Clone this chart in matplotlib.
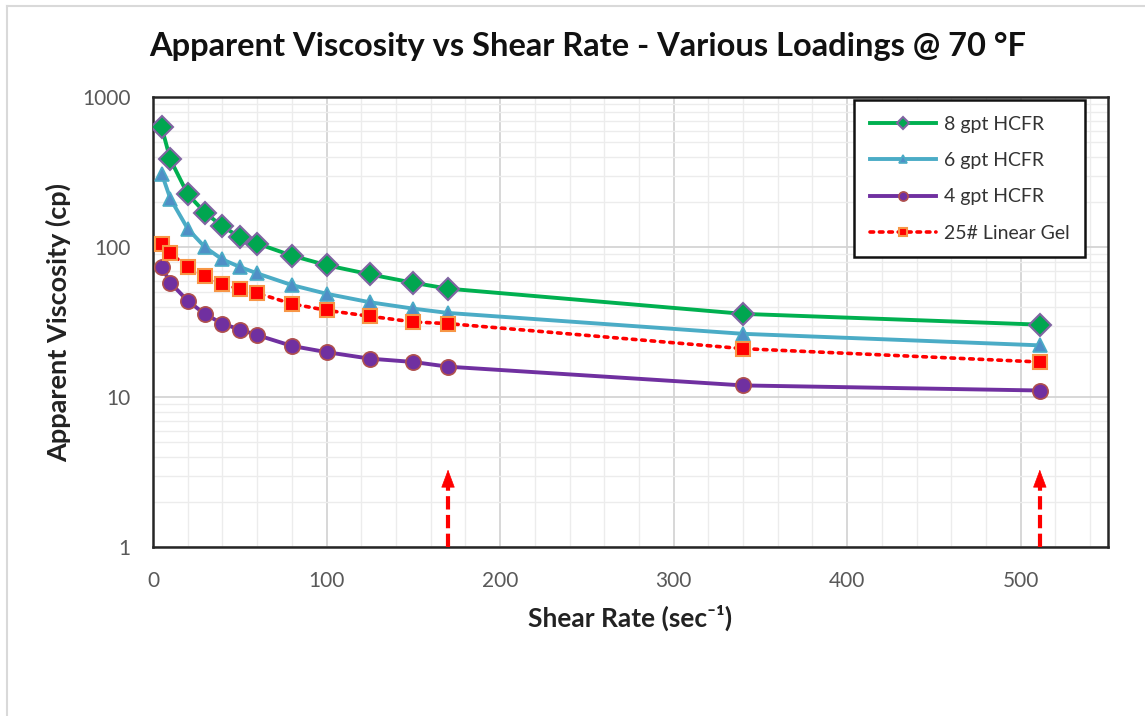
import matplotlib
matplotlib.use("Agg")
import matplotlib.pyplot as plt
from matplotlib.ticker import FixedLocator, LogLocator, NullFormatter, FuncFormatter

plt.rcParams['font.family'] = ['Lato', 'DejaVu Sans']

# shear rate (1/s)
shear = [5, 10, 20, 30, 40, 50, 60, 80, 100, 125, 150, 170, 340, 511]

# apparent viscosity (cp)
visc_8gpt = [630, 385, 226, 170, 138, 117, 106, 88, 76, 66, 58, 53, 36, 30.5]
visc_6gpt = [310, 211, 133, 100, 83, 74, 67, 56, 49, 43, 39, 36.5, 26.5, 22.2]
visc_4gpt = [74, 58, 44, 35.8, 31, 28.3, 26, 22, 20, 18.1, 17.2, 16, 12, 11.1]
visc_gel = [105, 91, 74, 64, 57, 52.5, 49.5, 42, 38, 34.7, 31.8, 31, 21.1, 17.2]

labels = ['8 gpt HCFR', '6 gpt HCFR', '4 gpt HCFR', '25# Linear Gel']

# rates marked with arrows
arrow_x = [170, 511]

fig = plt.figure(figsize=(11.45, 7.16), dpi=100)
ax = fig.add_axes([153/1145, 1 - 547.3/716, (1107.5 - 153)/1145, (547.3 - 97.3)/716])

ax.plot(shear, visc_8gpt, color='#00b050', lw=2.8, marker='D', ms=11,
        mfc='#00a650', mec='#8064a2', mew=1.5, label=labels[0], zorder=5)
ax.plot(shear, visc_6gpt, color='#4bacc6', lw=2.8, marker='^', ms=10,
        mfc='#4f8fc6', mec='#4bacc6', mew=1.2, label=labels[1], zorder=4)
ax.plot(shear, visc_4gpt, color='#7030a0', lw=2.8, marker='o', ms=11,
        mfc='#7030a0', mec='#b0504d', mew=1.2, label=labels[2], zorder=4)
ax.plot(shear, visc_gel, color='red', lw=2.6, ls=(0, (1, 1.6)), dash_capstyle='round',
        marker='s', ms=10, mfc='red', mec='#f79646', mew=1.5, label=labels[3], zorder=4)

# dashed red arrows
for x in arrow_x:
    ax.plot([x, x], [1.0, 2.55], color='red', lw=3, dashes=(3.2, 1.3), zorder=6, clip_on=False)
    ax.annotate('', xy=(x, 3.3), xytext=(x, 2.5),
                arrowprops=dict(arrowstyle='-|>,head_width=0.45,head_length=1.2',
                                color='red', lw=0.5, shrinkA=0, shrinkB=0), zorder=6)

ax.set_yscale('log')
ax.set_xlim(0, 550)
ax.set_ylim(1, 1000)

ax.xaxis.set_major_locator(FixedLocator([0, 100, 200, 300, 400, 500]))
ax.xaxis.set_minor_locator(FixedLocator(range(0, 551, 20)))
ax.yaxis.set_major_locator(FixedLocator([1, 10, 100, 1000]))
ax.yaxis.set_minor_locator(LogLocator(base=10, subs=range(2, 10)))
ax.yaxis.set_major_formatter(FuncFormatter(lambda v, p: '%d' % v))
ax.yaxis.set_minor_formatter(NullFormatter())

ax.grid(which='major', color='#d4d4d4', lw=1.3)
ax.grid(which='minor', color='#ececec', lw=1.0)
ax.set_axisbelow(True)

ax.tick_params(which='both', length=0, labelsize=15, labelcolor='#595959')
ax.tick_params(axis='x', pad=17)
ax.tick_params(axis='y', pad=16)

for s in ax.spines.values():
    s.set_color('#262626')
    s.set_linewidth(1.8)

fig.text(588/1145, 1 - 46/716, 'Apparent Viscosity vs Shear Rate - Various Loadings @ 70 °F',
         fontsize=23.5, fontweight='bold', color='#111111', ha='center', va='center')
ax.set_xlabel('Shear Rate (sec⁻¹)', fontsize=19, fontweight='bold', color='#222222', labelpad=10)
ax.set_ylabel('Apparent Viscosity (cp)', fontsize=19.5, fontweight='bold', color='#222222', labelpad=8)

leg = ax.legend(loc='upper right', bbox_to_anchor=(1085/1145, 1 - 100/716),
                bbox_transform=fig.transFigure, borderaxespad=0, fontsize=14,
                frameon=True, fancybox=False, edgecolor='#111111', framealpha=1,
                handlelength=3.4, handletextpad=0.4, labelspacing=1.0,
                borderpad=0.8, markerscale=0.6)
leg.get_frame().set_linewidth(1.8)
for t in leg.get_texts():
    t.set_color('#333333')

# light chart-area border (left and top)
fig.add_artist(plt.Line2D([7/1145, 7/1145], [0, 1 - 6/716], color='#d9d9d9', lw=1.5))
fig.add_artist(plt.Line2D([7/1145, 1], [1 - 6/716, 1 - 6/716], color='#d9d9d9', lw=1.5))

fig.savefig('out.png', dpi=100)
